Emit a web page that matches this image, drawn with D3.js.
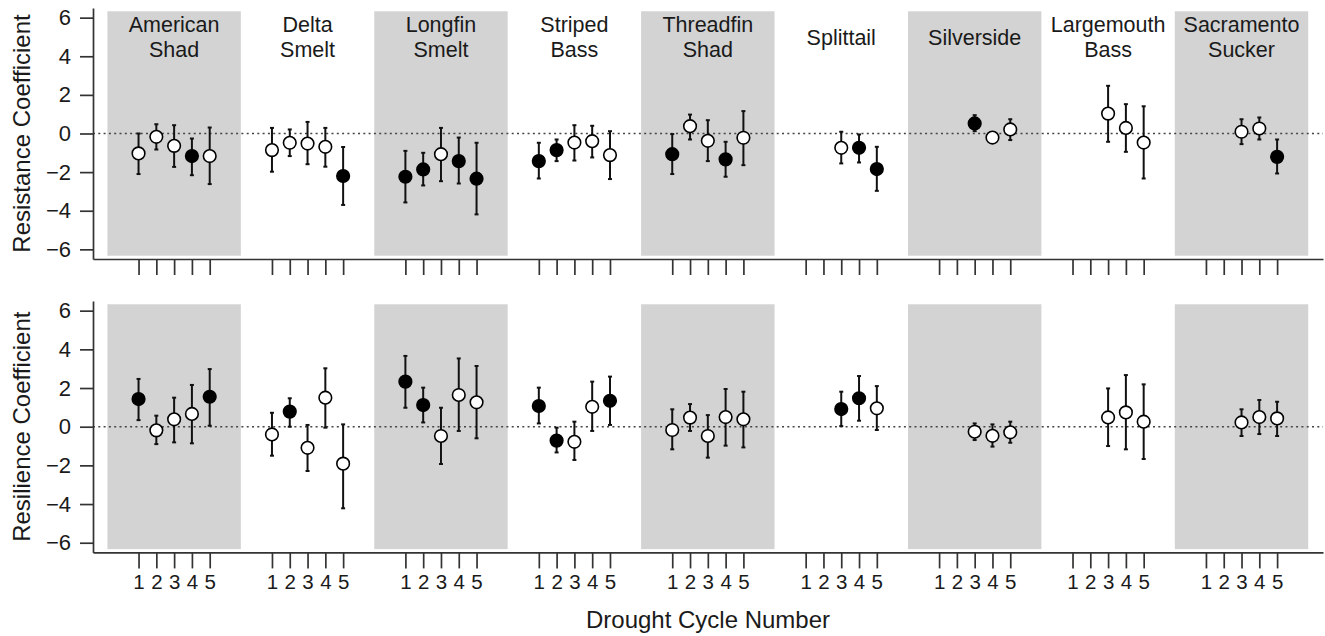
<!DOCTYPE html>
<html>
<head>
<meta charset="utf-8">
<script src="https://cdn.jsdelivr.net/npm/d3@7"></script>
<style>
  body { margin: 0; background: #fff; }
  svg { font-family: "Liberation Sans", Arial, sans-serif; }
</style>
</head>
<body>
<svg id="chart" width="1325" height="636"></svg>
<script>
// species groups, left to right (label lines)
var species = [
    ["American", "Shad"], ["Delta", "Smelt"], ["Longfin", "Smelt"], ["Striped", "Bass"],
    ["Threadfin", "Shad"], ["Splittail"], ["Silverside"], ["Largemouth", "Bass"], ["Sacramento", "Sucker"]
];
var cycles = [1, 2, 3, 4, 5];
var yTicks = [-6, -4, -2, 0, 2, 4, 6];

// resistance coefficients per species, one value per drought cycle (null = not estimated)
var resistEst = [
    [-1.03, -0.17, -0.64, -1.17, -1.17],
    [-0.86, -0.48, -0.52, -0.69, -2.2],
    [-2.24, -1.86, -1.07, -1.43, -2.34],
    [-1.43, -0.86, -0.47, -0.4, -1.12],
    [-1.07, 0.38, -0.38, -1.34, -0.22],
    [null, null, -0.74, -0.74, -1.84],
    [null, null, 0.52, -0.21, 0.21],
    [null, null, 1.03, 0.29, -0.47],
    [null, null, 0.09, 0.26, -1.21]
];
var resistLo = [
    [-2.1, -0.83, -1.73, -2.16, -2.62],
    [-1.98, -1.17, -1.59, -1.72, -3.7],
    [-3.57, -2.69, -2.47, -2.59, -4.19],
    [-2.33, -1.43, -1.4, -1.24, -2.36],
    [-2.1, -0.31, -1.43, -2.24, -1.64],
    [null, null, -1.55, -1.5, -2.97],
    [null, null, 0.12, -0.45, -0.34],
    [null, null, -0.43, -0.95, -2.33],
    [null, null, -0.55, -0.31, -2.07]
];
var resistHi = [
    [0, 0.48, 0.43, -0.26, 0.31],
    [0.29, 0.21, 0.6, 0.29, -0.7],
    [-0.9, -1.0, 0.29, -0.21, -0.48],
    [-0.48, -0.31, 0.43, 0.4, 0.12],
    [-0.03, 0.98, 0.69, -0.43, 1.16],
    [null, null, 0.09, -0.05, -0.69],
    [null, null, 0.95, 0.05, 0.74],
    [null, null, 2.47, 1.52, 1.41],
    [null, null, 0.74, 0.83, -0.31]
];
// 1 = significant (filled symbol)
var resistSig = [
    [0, 0, 0, 1, 0],
    [0, 0, 0, 0, 1],
    [1, 1, 0, 1, 1],
    [1, 1, 0, 0, 0],
    [1, 0, 0, 1, 0],
    [0, 0, 0, 1, 1],
    [0, 0, 1, 0, 0],
    [0, 0, 0, 0, 0],
    [0, 0, 0, 0, 1]
];

// resilience coefficients
var resilEst = [
    [1.43, -0.19, 0.38, 0.66, 1.55],
    [-0.4, 0.78, -1.09, 1.5, -1.91],
    [2.33, 1.12, -0.48, 1.64, 1.26],
    [1.07, -0.72, -0.78, 1.03, 1.34],
    [-0.17, 0.47, -0.48, 0.5, 0.38],
    [null, null, 0.91, 1.47, 0.95],
    [null, null, -0.26, -0.47, -0.29],
    [null, null, 0.48, 0.74, 0.26],
    [null, null, 0.22, 0.5, 0.43]
];
var resilLo = [
    [0.34, -0.9, -0.81, -0.86, 0.05],
    [-1.5, 0, -2.29, -0.05, -4.22],
    [0.98, 0.22, -1.93, -0.22, -0.6],
    [0.17, -1.33, -1.72, -0.22, 0.09],
    [-1.17, -0.22, -1.6, -0.98, -1.07],
    [null, null, 0.03, 0.31, -0.17],
    [null, null, -0.69, -1.03, -0.83],
    [null, null, -1.0, -1.17, -1.67],
    [null, null, -0.48, -0.38, -0.48]
];
var resilHi = [
    [2.47, 0.57, 1.5, 2.16, 2.98],
    [0.72, 1.47, 0.09, 3.02, 0.12],
    [3.66, 2.02, 0.98, 3.53, 3.14],
    [2.02, -0.05, 0.26, 2.33, 2.59],
    [0.9, 1.17, 0.6, 1.95, 1.81],
    [null, null, 1.81, 2.62, 2.1],
    [null, null, 0.17, 0.12, 0.26],
    [null, null, 1.98, 2.67, 2.19],
    [null, null, 0.9, 1.38, 1.29]
];
var resilSig = [
    [1, 0, 0, 0, 1],
    [0, 1, 0, 0, 0],
    [1, 1, 0, 0, 0],
    [1, 1, 0, 0, 1],
    [0, 0, 0, 0, 0],
    [0, 0, 1, 1, 0],
    [0, 0, 0, 0, 0],
    [0, 0, 0, 0, 0],
    [0, 0, 0, 0, 0]
];

var svg = d3.select("#chart");
var groupWidth = 7.5;   // x units per species block

// x position of cycle k inside species block g
function xPos(g, k) { return g * groupWidth + 0.75 + k; }

var x = d3.scaleLinear()
    .domain([-0.81, 68.33])
    .range([93, 1323]);

// every tick position and its label
var tickPositions = [];
var tickLabels = {};
species.forEach(function(s, g) {
    cycles.forEach(function(k) {
        var p = xPos(g, k);
        tickPositions.push(p);
        tickLabels[p] = k;
    });
});

function buildRows(est, lo, hi, sig) {
    var rows = [];
    est.forEach(function(vals, g) {
        vals.forEach(function(v, i) {
            if (v === null) return;
            rows.push({ x: xPos(g, cycles[i]), est: v, lo: lo[g][i], hi: hi[g][i], sig: sig[g][i] });
        });
    });
    return rows;
}

function drawPanel(top, bottom, title, rows, showLabels, showSpecies) {
    var y = d3.scaleLinear().domain([-6.5, 6.5]).range([bottom, top]);
    var g = svg.append("g");

    // alternate grey blocks
    g.selectAll("rect.block")
        .data(species.filter(function(d, i) { return i % 2 === 0; }))
        .enter().append("rect")
        .attr("class", "block")
        .attr("x", function(d) { return x(species.indexOf(d) * groupWidth); })
        .attr("width", x(groupWidth) - x(0))
        .attr("y", y(6.33))
        .attr("height", y(-6.33) - y(6.33))
        .attr("fill", "#d3d3d3");

    // zero reference line
    g.append("line")
        .attr("x1", x(-0.81)).attr("x2", x(68.33))
        .attr("y1", y(0)).attr("y2", y(0))
        .attr("stroke", "#444")
        .attr("stroke-width", 1.5)
        .attr("stroke-dasharray", "2,3.3");

    // y axis
    var yAxis = g.append("g")
        .attr("transform", "translate(93,0)")
        .call(d3.axisLeft(y).tickValues(yTicks).tickSize(13).tickSizeOuter(0).tickPadding(9));
    yAxis.selectAll("text").attr("font-size", "22px").attr("fill", "#1a1a1a");

    // x axis
    var xAxis = g.append("g")
        .attr("transform", "translate(0," + bottom + ")")
        .call(d3.axisBottom(x).tickValues(tickPositions).tickSize(16).tickSizeOuter(0).tickPadding(6)
            .tickFormat(function(d) { return showLabels ? tickLabels[d] : ""; }));
    xAxis.selectAll("text").attr("font-size", "20.5px").attr("fill", "#1a1a1a");

    [yAxis, xAxis].forEach(function(a) {
        a.attr("font-family", null);
        a.selectAll(".domain, .tick line").attr("stroke", "#333").attr("stroke-width", 1.7);
    });

    // error bars
    var bars = g.selectAll("g.bar").data(rows).enter().append("g").attr("class", "bar")
        .attr("stroke", "#111").attr("stroke-width", 2);
    bars.append("line")
        .attr("x1", function(d) { return x(d.x); }).attr("x2", function(d) { return x(d.x); })
        .attr("y1", function(d) { return y(d.lo); }).attr("y2", function(d) { return y(d.hi); });
    bars.append("line")
        .attr("x1", function(d) { return x(d.x) - 2; }).attr("x2", function(d) { return x(d.x) + 2; })
        .attr("y1", function(d) { return y(d.lo); }).attr("y2", function(d) { return y(d.lo); });
    bars.append("line")
        .attr("x1", function(d) { return x(d.x) - 2; }).attr("x2", function(d) { return x(d.x) + 2; })
        .attr("y1", function(d) { return y(d.hi); }).attr("y2", function(d) { return y(d.hi); });

    // points
    g.selectAll("circle").data(rows).enter().append("circle")
        .attr("cx", function(d) { return x(d.x); })
        .attr("cy", function(d) { return y(d.est); })
        .attr("r", 6.3)
        .attr("fill", function(d) { return d.sig ? "#000" : "#fff"; })
        .attr("stroke", "#000")
        .attr("stroke-width", 1.6);

    // y title
    g.append("text")
        .attr("transform", "translate(30," + y(0) + ") rotate(-90)")
        .attr("text-anchor", "middle")
        .attr("font-size", "24px")
        .attr("fill", "#1a1a1a")
        .text(title);

    // species names
    if (showSpecies) {
        species.forEach(function(lines, i) {
            var cx = x(i * groupWidth + groupWidth / 2);
            var t = g.append("text")
                .attr("text-anchor", "middle")
                .attr("font-size", "21.5px")
                .attr("fill", "#1a1a1a");
            var y0 = lines.length === 1 ? 44.5 : 31.7;
            lines.forEach(function(l, j) {
                t.append("tspan").attr("x", cx).attr("y", y0 + j * 25.7).text(l);
            });
        });
    }
}

drawPanel(8, 259, "Resistance Coefficient", buildRows(resistEst, resistLo, resistHi, resistSig), false, true);
drawPanel(301, 552.4, "Resilience Coefficient", buildRows(resilEst, resilLo, resilHi, resilSig), true, false);

// x title
svg.append("text")
    .attr("x", 708)
    .attr("y", 628)
    .attr("text-anchor", "middle")
    .attr("font-size", "24px")
    .attr("fill", "#1a1a1a")
    .text("Drought Cycle Number");
</script>
</body>
</html>
